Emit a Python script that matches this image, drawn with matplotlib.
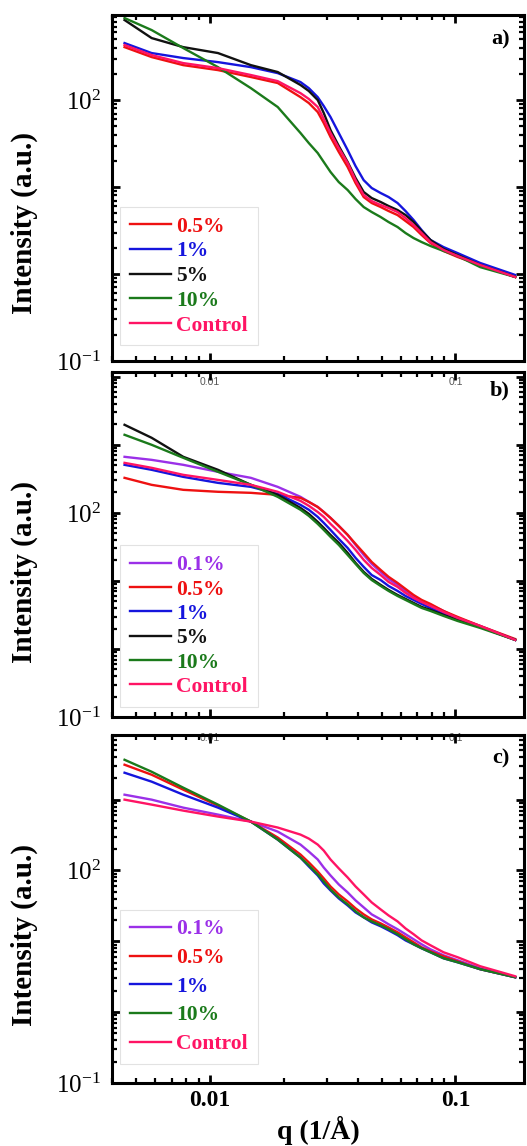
import numpy as np
import matplotlib.pyplot as plt
from matplotlib.ticker import FixedLocator, LogLocator, NullFormatter, FuncFormatter

plt.rcParams['font.family'] = 'Liberation Serif'
plt.rcParams['mathtext.fontset'] = 'custom'
plt.rcParams['mathtext.rm'] = 'Liberation Serif'
plt.rcParams['mathtext.it'] = 'Liberation Serif:italic'
plt.rcParams['mathtext.bf'] = 'Liberation Serif:bold'

# q values (1/A) shared by all curves
q = [0.0045, 0.0058, 0.0078, 0.0108, 0.0147, 0.0189, 0.0234, 0.0253, 0.0275,
     0.0291, 0.0310, 0.0335, 0.0364, 0.0392, 0.0423, 0.0456, 0.0496, 0.0534,
     0.0581, 0.0626, 0.0675, 0.0728, 0.0791, 0.0894, 0.102, 0.126, 0.175]

# panel a) intensities
a_05 = [406, 312, 252, 221, 184, 157, 108, 92.4, 72.8, 54.4, 37.6, 25.3, 17.0, 11.1,
        7.67, 6.55, 5.89, 5.30, 4.76, 4.07, 3.47, 2.81, 2.27, 1.84, 1.57, 1.27, 0.924]
a_1 = [452, 347, 304, 273, 239, 204, 161, 137, 108, 85.3, 63.8, 41.8, 26.6, 17.4,
       12.0, 9.74, 8.53, 7.68, 6.55, 5.30, 4.18, 3.20, 2.46, 2.04, 1.74, 1.34, 0.975]
a_5 = [832, 516, 406, 347, 252, 210, 149, 127, 100, 70.9, 45.2, 29.6, 19.4, 12.7,
       8.77, 7.47, 6.73, 6.05, 5.44, 4.77, 3.96, 3.12, 2.46, 1.94, 1.65, 1.27, 0.925]
a_10 = [877, 638, 396, 239, 137, 83.2, 41.8, 32.0, 24.6, 19.4, 14.9, 11.4, 9.24, 7.28,
        5.89, 5.16, 4.52, 3.96, 3.47, 2.96, 2.59, 2.33, 2.10, 1.84, 1.61, 1.20, 0.924]
a_ctrl = [429, 329, 266, 233, 194, 165, 120, 103, 83.2, 60.5, 41.8, 28.1, 18.9, 12.0,
          8.09, 6.90, 6.21, 5.74, 5.16, 4.40, 3.66, 2.96, 2.33, 1.89, 1.61, 1.27, 0.924]

# panel b) intensities
b_01 = [666, 601, 508, 401, 327, 241, 172, 145, 122, 103, 84.4, 64.4, 47.5, 33.8,
        24.1, 17.8, 13.6, 10.7, 8.74, 7.13, 6.01, 5.08, 4.44, 3.62, 2.86, 2.18, 1.36]
b_05 = [327, 258, 218, 204, 197, 184, 166, 145, 122, 103, 84.4, 64.4, 47.5, 35.0,
        25.8, 19.0, 14.5, 11.5, 9.35, 7.63, 6.22, 5.26, 4.59, 3.62, 2.96, 2.18, 1.40]
b_1 = [508, 429, 338, 276, 241, 190, 131, 111, 87.3, 71.3, 56.2, 41.5, 30.5, 21.8,
       16.1, 12.2, 10.3, 8.44, 7.13, 6.01, 5.26, 4.59, 4.01, 3.27, 2.76, 2.11, 1.36]
b_5 = [1968, 1268, 666, 429, 258, 184, 118, 96.7, 73.7, 60.2, 47.5, 36.2, 25.8, 18.4,
       13.6, 10.7, 8.74, 7.37, 6.22, 5.44, 4.75, 4.15, 3.75, 3.16, 2.67, 2.11, 1.36]
b_10 = [1403, 1000, 644, 401, 258, 172, 111, 90.3, 68.9, 56.2, 44.4, 33.8, 24.1, 17.8,
        13.1, 10.3, 8.44, 7.13, 6.01, 5.26, 4.59, 4.01, 3.62, 3.06, 2.58, 2.04, 1.36]
b_ctrl = [543, 459, 362, 305, 258, 204, 150, 127, 103, 87.3, 68.9, 52.6, 38.7, 28.6,
          20.4, 15.5, 12.2, 9.67, 8.16, 6.66, 5.62, 4.91, 4.29, 3.50, 2.86, 2.18, 1.36]

# panel c) intensities
c_01 = [1175, 1000, 771, 615, 490, 354, 232, 185, 143, 110, 85.1, 63.5, 49.0, 37.8,
        30.1, 24.0, 20.4, 17.4, 14.8, 12.6, 10.7, 9.08, 7.71, 6.35, 5.40, 4.17, 3.11]
c_05 = [3112, 2249, 1383, 823, 490, 292, 168, 130, 96.8, 77.2, 59.5, 45.9, 36.6, 29.2,
        24.0, 20.4, 17.9, 15.7, 13.4, 11.4, 9.68, 8.23, 7.23, 6.15, 5.22, 4.04, 3.11]
c_1 = [2399, 1795, 1175, 771, 490, 273, 152, 114, 85.1, 65.6, 52.3, 40.3, 32.1, 25.6,
       21.8, 18.5, 16.3, 14.3, 12.2, 10.3, 9.08, 7.97, 7.00, 5.76, 5.06, 4.04, 3.11]
c_10 = [3656, 2478, 1476, 851, 490, 273, 152, 118, 87.9, 70.0, 54.0, 41.7, 33.2, 26.5,
        21.8, 19.1, 16.8, 14.8, 12.6, 10.7, 9.08, 7.97, 7.00, 5.76, 5.06, 4.04, 3.11]
c_ctrl = [1000, 851, 700, 577, 490, 404, 321, 282, 232, 191, 143, 107, 79.7, 59.5,
          45.9, 35.4, 28.2, 23.2, 19.1, 15.2, 12.6, 10.3, 8.79, 7.00, 5.96, 4.45, 3.21]

colors = {'0.1%': '#9b30e8', '0.5%': '#ee1111', '1%': '#1515dd', '5%': '#111111',
          '10%': '#1b7a1b', 'Control': '#ff1464'}

panels = [
    ('a)', [('0.5%', a_05), ('1%', a_1), ('5%', a_5), ('10%', a_10), ('Control', a_ctrl)], 950),
    ('b)', [('0.1%', b_01), ('0.5%', b_05), ('1%', b_1), ('5%', b_5), ('10%', b_10), ('Control', b_ctrl)], 11700),
    ('c)', [('0.1%', c_01), ('0.5%', c_05), ('1%', c_1), ('10%', c_10), ('Control', c_ctrl)], 8200),
]

# axes positions in figure fraction [left, bottom, width, height]
positions = [[0.2125, 0.6850, 0.7818, 0.3019],
             [0.2125, 0.3743, 0.7818, 0.3010],
             [0.2125, 0.0550, 0.7818, 0.3037]]
legend_y = [0.045, 0.03, 0.055]
legend_gap = [0.22, 0.2, 0.4]
label_y = [0.40, 0.42, 0.425]
tag_y = [0.928, 0.948, 0.931]

def ylab(v, pos):
    if np.isclose(v, 100):
        return r'$10^{2}$'
    if np.isclose(v, 0.1):
        return r'$10^{-1}$'
    return ''

fig = plt.figure(figsize=(5.27, 11.46), dpi=100)

for i, (tag, series, ytop) in enumerate(panels):
    ax = fig.add_axes(positions[i])
    for name, vals in series:
        ax.plot(q, vals, color=colors[name], lw=1.7, label=name)
    ax.set_xscale('log')
    ax.set_yscale('log')
    ax.set_xlim(0.004, 0.19)
    ax.set_ylim(0.1, ytop)

    ax.yaxis.set_major_locator(FixedLocator([0.1, 1, 10, 100, 1000, 10000]))
    ax.yaxis.set_major_formatter(FuncFormatter(ylab))
    ax.yaxis.set_minor_locator(LogLocator(base=10, subs=np.arange(2, 10), numticks=20))
    ax.yaxis.set_minor_formatter(NullFormatter())
    ax.xaxis.set_major_locator(FixedLocator([0.01, 0.1]))
    ax.xaxis.set_minor_locator(LogLocator(base=10, subs=np.arange(2, 10), numticks=20))
    ax.xaxis.set_minor_formatter(NullFormatter())

    ax.tick_params(which='both', direction='in', top=True, right=True)
    ax.tick_params(which='major', length=6, width=2)
    ax.tick_params(which='minor', length=3.5, width=1.6)
    ax.tick_params(axis='y', which='major', labelsize=18, pad=8)
    for s in ax.spines.values():
        s.set_linewidth(2.2)

    if i < 2:
        ax.set_xticklabels([])
    else:
        ax.set_xticklabels(['0.01', '0.1'], fontsize=17, fontweight='bold')
        ax.tick_params(axis='x', which='major', pad=5)
        ax.set_xlabel('q (1/Å)', fontsize=20, fontweight='bold')
        ax.xaxis.set_label_coords(0.5, -0.095)

    ax.set_ylabel('Intensity (a.u.)', fontsize=21, fontweight='bold')
    ax.yaxis.set_label_coords(-0.18, label_y[i])

    ax.text(0.966, tag_y[i], tag, transform=ax.transAxes, ha='right', va='center',
            fontsize=16, fontweight='bold')

    # faint leftover tick labels inside the lower panels
    if i > 0:
        yy = 0.972 if i == 1 else 0.99
        for xv, s in [(0.01, '0.01'), (0.1, '0.1')]:
            ax.text(xv, yy, s, transform=ax.get_xaxis_transform(), ha='center', va='center',
                    fontsize=7.5, color='#555555', family='Liberation Sans', zorder=1)

    leg = ax.legend(loc='lower left', bbox_to_anchor=(0.02, legend_y[i]), borderaxespad=0,
                    prop={'family': 'Liberation Serif', 'weight': 'bold', 'size': 15.5},
                    handlelength=1.9, handletextpad=0.25, labelspacing=legend_gap[i],
                    borderpad=0.45, fancybox=False, framealpha=1, edgecolor='#e2e2e2')
    leg.get_frame().set_linewidth(0.8)
    for txt, (name, _) in zip(leg.get_texts(), series):
        txt.set_color(colors[name])

fig.savefig('out.png', dpi=100)
